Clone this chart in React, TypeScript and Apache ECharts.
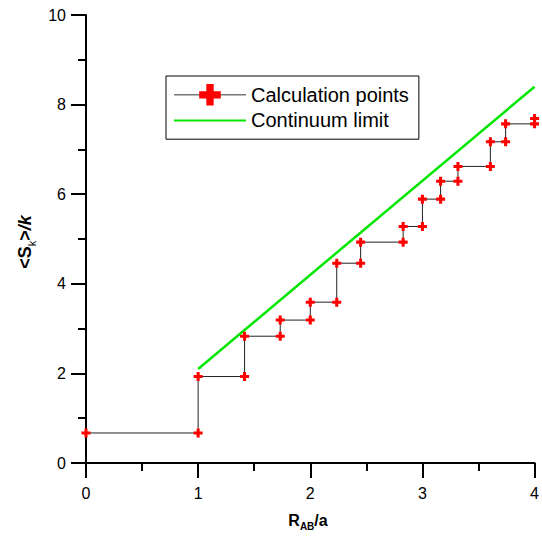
import React, { useEffect, useRef } from "react";
import * as echarts from "echarts";

// Staircase of computed values: each step sits at R_AB/a = sqrt(n)
const xValues = [0, 1, 1, 1.414, 1.414, 1.732, 1.732, 2, 2, 2.236, 2.236, 2.449, 2.449, 2.828, 2.828, 3, 3, 3.162, 3.162, 3.317, 3.317, 3.606, 3.606, 3.742, 3.742, 4, 4];
const yValues = [0.67, 0.67, 1.93, 1.93, 2.83, 2.83, 3.19, 3.19, 3.59, 3.59, 4.46, 4.46, 4.93, 4.93, 5.28, 5.28, 5.89, 5.89, 6.29, 6.29, 6.62, 6.62, 7.17, 7.17, 7.57, 7.57, 7.69];

// Continuum limit (straight line)
const limitX = [1, 4];
const limitY = [2.1, 8.4];

const xTicks = [0, 1, 2, 3, 4];
const yTicks = [0, 2, 4, 6, 8, 10];

const seriesNames = ["Calculation points", "Continuum limit"];

const FONT = "'Liberation Sans', Arial, Helvetica, sans-serif";
const PLUS = "path://M3.3,0H6.7V3.3H10V6.7H6.7V10H3.3V6.7H0V3.3H3.3Z";

export default function App() {
  const ref = useRef<HTMLDivElement>(null);

  useEffect(() => {
    if (!ref.current) return;
    const chart = echarts.init(ref.current, undefined, { renderer: "svg" });

    const steps = xValues.map((x, i) => [x, yValues[i]]);
    const limit = limitX.map((x, i) => [x, limitY[i]]);

    const xRich = {
      m: { fontSize: 16, fontWeight: "bold", fontFamily: FONT, color: "#000", lineHeight: 22 },
      s: { fontSize: 10, fontWeight: "bold", fontFamily: FONT, color: "#000", lineHeight: 12, verticalAlign: "bottom" },
    };
    const yRich = {
      m: { fontSize: 18, fontWeight: "bold", fontFamily: FONT, color: "#000", lineHeight: 24 },
      s: { fontSize: 11, fontFamily: FONT, color: "#000", lineHeight: 13, verticalAlign: "bottom" },
      i: { fontSize: 18, fontWeight: "bold", fontStyle: "italic", fontFamily: FONT, color: "#000", lineHeight: 24 },
    };

    chart.setOption({
      animation: false,
      backgroundColor: "#fff",
      grid: { left: 86, right: 6, top: 15, bottom: 74 },
      xAxis: {
        type: "value",
        min: xTicks[0],
        max: xTicks[xTicks.length - 1],
        interval: 1,
        axisLine: { show: true, onZero: false, lineStyle: { color: "#000", width: 2 } },
        axisTick: { show: true, length: 15, lineStyle: { color: "#000", width: 2 } },
        minorTick: { show: true, splitNumber: 2, length: 8, lineStyle: { color: "#000", width: 2 } },
        splitLine: { show: false },
        axisLabel: { fontSize: 16, color: "#000", fontFamily: FONT, margin: 22 },
      },
      yAxis: {
        type: "value",
        min: yTicks[0],
        max: yTicks[yTicks.length - 1],
        interval: 2,
        axisLine: { show: true, onZero: false, lineStyle: { color: "#000", width: 2 } },
        axisTick: { show: true, length: 15, lineStyle: { color: "#000", width: 2 } },
        minorTick: { show: true, splitNumber: 2, length: 8, lineStyle: { color: "#000", width: 2 } },
        splitLine: { show: false },
        axisLabel: { fontSize: 16, color: "#000", fontFamily: FONT, margin: 20 },
      },
      legend: {
        orient: "vertical",
        left: 166,
        top: 76,
        itemWidth: 72,
        itemHeight: 27,
        itemGap: 4,
        padding: [8, 10, 8, 7],
        borderColor: "#000",
        borderWidth: 1,
        textStyle: { fontSize: 20, color: "#000", fontFamily: FONT },
        data: [
          { name: seriesNames[0], lineStyle: { color: "#777", width: 1.5 } },
          { name: seriesNames[1], itemStyle: { opacity: 0 } },
        ],
      },
      series: [
        {
          name: seriesNames[0],
          type: "line",
          data: steps,
          symbol: PLUS,
          symbolSize: 9,
          clip: false,
          lineStyle: { color: "#222", width: 1 },
          itemStyle: { color: "#ff0000" },
          z: 3,
        },
        {
          name: seriesNames[1],
          type: "line",
          data: limit,
          symbol: "none",
          lineStyle: { color: "#00e600", width: 2.5 },
          itemStyle: { color: "#00e600" },
          z: 2,
        },
      ],
      graphic: [
        {
          type: "text",
          x: 308,
          y: 520,
          style: {
            text: "{m|R}{s|AB}{m|/a}",
            rich: xRich,
            align: "center",
            verticalAlign: "middle",
          },
        },
        {
          type: "text",
          x: 25,
          y: 242,
          rotation: Math.PI / 2,
          style: {
            text: "{m|<S}{s|k}{m|>}{i|/k}",
            rich: yRich,
            align: "center",
            verticalAlign: "middle",
          },
        },
      ],
    });

    return () => chart.dispose();
  }, []);

  return (
    <div
      ref={ref}
      style={{ position: "fixed", left: 0, top: 0, width: 542, height: 537, background: "#fff" }}
    />
  );
}
